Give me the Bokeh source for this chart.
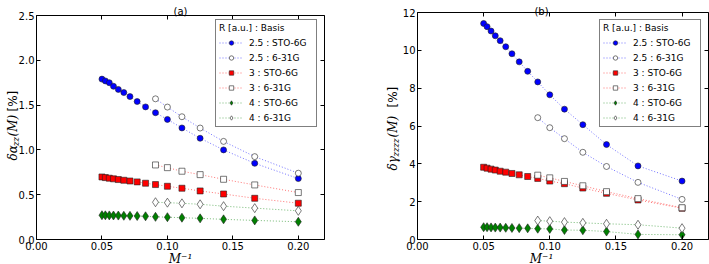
import math
from bokeh.plotting import figure
from bokeh.models import (Legend, LegendItem, Label, PrintfTickFormatter,
                          FixedTicker, Range1d, LinearAxis)
from bokeh.layouts import row
from bokeh.embed import file_html
from bokeh.resources import INLINE

# ---------------- data ----------------
x_sto = [0.05, 0.0526, 0.0556, 0.0588, 0.0625, 0.0667, 0.0714, 0.0769,
         0.0833, 0.0909, 0.1, 0.1111, 0.125, 0.1429, 0.1667, 0.2]
x_631 = [0.0909, 0.1, 0.1111, 0.125, 0.1429, 0.1667, 0.2]

labels = ["2.5 : STO-6G", "2.5 : 6-31G", "3 : STO-6G", "3 : 6-31G",
          "4 : STO-6G", "4 : 6-31G"]

# panel (a): delta alpha_zz(M) [%]
a_25_sto = [1.79, 1.77, 1.75, 1.71, 1.675, 1.64, 1.595, 1.54, 1.48, 1.415,
            1.34, 1.245, 1.13, 1.0, 0.85, 0.68]
a_25_631 = [1.57, 1.478, 1.37, 1.244, 1.095, 0.925, 0.74]
a_3_sto = [0.698, 0.691, 0.684, 0.677, 0.669, 0.661, 0.653, 0.643, 0.628,
           0.613, 0.594, 0.572, 0.542, 0.508, 0.46, 0.405]
a_3_631 = [0.832, 0.802, 0.762, 0.724, 0.672, 0.609, 0.524]
a_4_sto = [0.271, 0.27, 0.269, 0.268, 0.267, 0.265, 0.264, 0.262, 0.259,
           0.253, 0.249, 0.243, 0.236, 0.225, 0.213, 0.198]
a_4_631 = [0.416, 0.411, 0.404, 0.393, 0.372, 0.35, 0.32]

# panel (b): delta gamma_zzzz(M) [%]
b_25_sto = [11.42, 11.25, 11.02, 10.77, 10.51, 10.19, 9.82, 9.39, 8.89, 8.33,
            7.65, 6.89, 6.07, 5.02, 3.89, 3.09]
b_25_631 = [6.44, 5.91, 5.33, 4.61, 3.86, 3.02, 2.12]
b_3_sto = [3.82, 3.77, 3.72, 3.67, 3.61, 3.56, 3.49, 3.42, 3.33, 3.23, 3.09,
           2.95, 2.72, 2.44, 2.09, 1.65]
b_3_631 = [3.40, 3.26, 3.07, 2.84, 2.53, 2.16, 1.68]
b_4_sto = [0.65, 0.65, 0.64, 0.63, 0.63, 0.62, 0.61, 0.6, 0.59, 0.57, 0.56,
           0.5, 0.49, 0.42, 0.27, 0.25]
b_4_631 = [1.0, 0.97, 0.92, 0.88, 0.83, 0.78, 0.6]

x_min, x_max = 0.0, 0.22
x_ticks = [0.0, 0.05, 0.1, 0.15, 0.2]
y_max_a = 2.5
y_ticks_a = [0.0, 0.5, 1.0, 1.5, 2.0, 2.5]
y_max_b = 12
y_ticks_b = [0, 2, 4, 6, 8, 10, 12]

# ---------------- styles ----------------
EDGE = "#222222"
styles = [
    dict(marker="circle", fill="#0000ff", line="#0000ff", size=6),
    dict(marker="circle", fill="white", line="#0000ff", size=6),
    dict(marker="square", fill="#ff0000", line="#ff0000", size=6),
    dict(marker="square", fill="white", line="#ff0000", size=6),
    dict(marker="diamond", fill="#008000", line="#008000", size=9),
    dict(marker="diamond", fill="white", line="#008000", size=9),
]

SANS = "DejaVu Sans"
SERIF = "DejaVu Serif"
H = 264  # canvas height (px)


def style_axis(ax, ticks, fmt, hide_labels=False):
    ax.ticker = FixedTicker(ticks=ticks)
    ax.formatter = PrintfTickFormatter(format=fmt)
    ax.axis_line_color = "black"
    ax.axis_line_width = 1
    ax.major_tick_line_color = "black"
    ax.major_tick_in = 4
    ax.major_tick_out = 0
    ax.minor_tick_line_color = None
    ax.major_label_text_font = SANS
    ax.major_label_text_font_size = "10px"
    ax.major_label_text_color = "black"
    ax.major_label_standoff = 2
    if hide_labels:
        ax.major_label_overrides = {t: "" for t in ticks}


def make_panel(width, frame_l, frame_r, frame_t, frame_b, ymax, yticks, yfmt,
               ys, title, title_x, title_base, ylabel_parts, ylabel_x,
               ylabel_y0, legend_xy):
    # map the axes box (canvas px) onto data coordinates: the whole canvas
    # is the frame, so texts outside the axes box stay visible
    sx = (frame_r - frame_l) / (x_max - x_min)
    sy = (frame_b - frame_t) / (ymax - 0.0)
    xr = Range1d(x_min - frame_l / sx, x_max + (width - frame_r) / sx)
    yr = Range1d(0.0 - (H - frame_b) / sy, ymax + frame_t / sy)
    p = figure(width=width, height=H, output_backend="svg",
               toolbar_location=None, x_range=xr, y_range=yr,
               min_border=0, min_border_left=0, min_border_right=0,
               min_border_top=0, min_border_bottom=0)
    p.title.visible = False
    p.xgrid.visible = False
    p.ygrid.visible = False
    p.outline_line_color = None
    p.background_fill_color = "white"
    p.border_fill_color = "white"

    style_axis(p.xaxis[0], x_ticks, "%.2f")
    p.xaxis[0].fixed_location = 0.0
    p.xaxis[0].bounds = (x_min, x_max)
    style_axis(p.yaxis[0], yticks, yfmt)
    p.yaxis[0].fixed_location = x_min
    p.yaxis[0].bounds = (0.0, ymax)
    top = LinearAxis(fixed_location=ymax, bounds=(x_min, x_max))
    style_axis(top, x_ticks, "%.2f", hide_labels=True)
    p.add_layout(top, "above")
    right = LinearAxis(fixed_location=x_max, bounds=(0.0, ymax))
    style_axis(right, yticks, yfmt, hide_labels=True)
    p.add_layout(right, "right")

    items = []
    xs = [x_sto, x_631, x_sto, x_631, x_sto, x_631]
    for lab, xv, yv, st in zip(labels, xs, ys, styles):
        lr = p.line(xv, yv, line_color=st["line"], line_alpha=0.55,
                    line_width=1, line_dash="1 2")
        sr = p.scatter(xv, yv, marker=st["marker"], size=st["size"],
                       fill_color=st["fill"], line_color=EDGE,
                       line_width=0.6)
        items.append(LegendItem(label=lab, renderers=[lr, sr]))

    legend = Legend(items=items, location=legend_xy,
                    title="R [a.u.] : Basis",
                    title_text_font=SANS, title_text_font_size="9px",
                    title_text_font_style="normal", title_text_color="black",
                    label_text_font=SANS, label_text_font_size="9px",
                    label_text_color="black",
                    glyph_width=24, glyph_height=11, label_height=11,
                    label_width=64, spacing=4, padding=3, margin=0,
                    label_standoff=6, title_standoff=4,
                    border_line_color="black", border_line_width=1,
                    background_fill_color="white", background_fill_alpha=1)
    p.add_layout(legend)

    # panel title, just above the axes box
    p.add_layout(Label(x=title_x, y=H - title_base, x_units="screen",
                       y_units="screen", text=title, text_align="center",
                       text_baseline="alphabetic", text_font=SANS,
                       text_font_size="10px", text_color="black"))
    # x axis label
    p.add_layout(Label(x=title_x, y=6, x_units="screen", y_units="screen",
                       text="M⁻¹", text_align="center",
                       text_baseline="alphabetic", text_font=SERIF,
                       text_font_style="italic", text_font_size="12px",
                       text_color="black"))
    # y axis label, composed of pieces (rotated)
    y = ylabel_y0
    for text, size, font, style, dx, w in ylabel_parts:
        p.add_layout(Label(x=ylabel_x + dx, y=y, x_units="screen",
                           y_units="screen", text=text, angle=math.pi / 2,
                           text_align="left", text_baseline="alphabetic",
                           text_font=font, text_font_style=style,
                           text_font_size=f"{size}px", text_color="black"))
        y += w
    return p


ylab_a = [("δα", 12, SERIF, "italic", 0, 14.5),
          ("zz", 8.5, SERIF, "italic", 3, 9.5),
          ("(M)", 12, SERIF, "italic", 0, 25),
          ("[%]", 12, SANS, "normal", 0, 21)]
ylab_b = [("δγ", 12, SERIF, "italic", 0, 14),
          ("zzzz", 8.5, SERIF, "italic", 3, 19),
          ("(M)", 12, SERIF, "italic", 0, 30),
          ("[%]", 12, SANS, "normal", 0, 21)]

# left canvas spans picture x 0..372, right canvas 372..709; y 0..264
p1 = make_panel(372, 36, 324, 15, 239, y_max_a, y_ticks_a, "%.1f",
                [a_25_sto, a_25_631, a_3_sto, a_3_631, a_4_sto, a_4_631],
                "(a)", 180, 11, ylab_a, 12, 104, (215, 137))
p2 = make_panel(337, 45, 336, 12, 239, y_max_b, y_ticks_b, "%d",
                [b_25_sto, b_25_631, b_3_sto, b_3_631, b_4_sto, b_4_631],
                "(b)", 169, 10.5, ylab_b, 20, 94, (227, 137))

layout = row(p1, p2)
open("out.html", "w").write(file_html(layout, INLINE))
